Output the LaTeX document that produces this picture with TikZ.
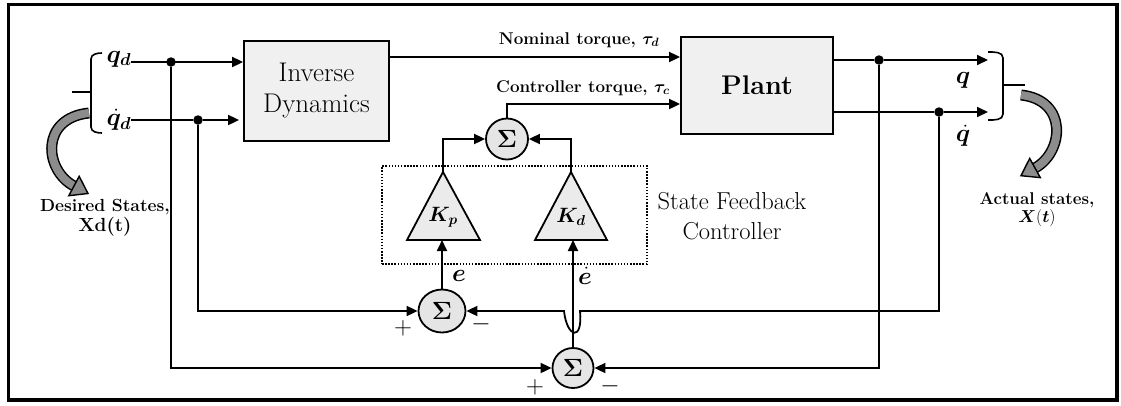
\documentclass[tikz,border=0pt]{standalone}
\usepackage{fontspec}
\usepackage{amsmath}
\usepackage{bm}
\usetikzlibrary{arrows.meta,shapes.geometric,calc}
\begin{document}
\begin{tikzpicture}[x=1pt,y=-1pt,
  conn/.style={line width=1.8pt},
  arr/.style={conn,-{Triangle[length=11pt,width=10pt]}},
  blk/.style={draw,line width=1.8pt,fill=black!6,inner sep=0pt,align=center},
  sumn/.style={draw,line width=1.8pt,fill=black!10,ellipse,inner sep=0pt,font=\fontsize{27}{27}\selectfont},
  dotn/.style={circle,fill=black,inner sep=0pt,minimum size=9.5pt},
  trifill/.style={draw,line width=1.8pt,fill=black!8,line join=miter},
  lblb/.style={inner sep=0pt,font=\fontsize{17}{19}\bfseries\selectfont},
  mlbl/.style={inner sep=0pt,font=\fontsize{24}{24}\selectfont},
  klbl/.style={inner sep=0pt,font=\fontsize{21}{21}\selectfont},
  sgn/.style={inner sep=0pt,font=\fontsize{27}{27}\selectfont},
  brc/.style={line width=1.6pt},
  bigarrow/.style={draw=black,line width=1.4pt,fill=black!45,line join=miter},
]
\useasboundingbox (0,0) rectangle (1121,405);
% outer frame
\draw[line width=3.5pt] (8.5,4.5) rectangle (1117,400);

% blocks
\node[blk,minimum width=145pt,minimum height=100pt,font=\fontsize{27}{31}\selectfont] (id) at (316.5,91) {Inverse\\Dynamics};
\node[blk,minimum width=152pt,minimum height=97pt,font=\fontsize{27}{30}\bfseries\selectfont] (plant) at (757,85.5) {Plant};

% sums
\node[sumn,minimum width=42pt,minimum height=41pt] (sigt) at (507,139) {$\bm{\Sigma}$};
\node[sumn,minimum width=47pt,minimum height=43pt] (sige) at (442,311) {$\bm{\Sigma}$};
\node[sumn,minimum width=41pt,minimum height=40pt] (sigd) at (573,368) {$\bm{\Sigma}$};

% dotted controller box
\node[draw,line width=1.5pt,dash pattern=on 1.5pt off 1.6pt,minimum width=265pt,minimum height=98pt,inner sep=0pt] (sfb) at (514.5,215) {};
\node[inner sep=0pt,align=center,font=\fontsize{24.5}{30}\selectfont] (sfbl) at (732,216) {State Feedback\\Controller};

% gain triangles
\coordinate (kptop) at (443,172);
\coordinate (kpbot) at (443,240);
\coordinate (kdtop) at (571,172);
\coordinate (kdbot) at (571,240);
\draw[trifill] (407,240) -- (kptop) -- (480,240) -- cycle;
\draw[trifill] (535,240) -- (kdtop) -- (607,240) -- cycle;
\node[klbl] (kp) at (443,217) {$\bm{K_p}$};
\node[klbl] (kd) at (571,217) {$\bm{K_d}$};

% inputs
\node[mlbl] (qd) at (119,59) {$\bm{q}_{\bm d}$};
\node[mlbl] (qdd) at (119,120) {$\dot{\bm{q}}_{\bm d}$};
\node[dotn] (d1) at (171,62) {};
\node[dotn] (d2) at (198,120) {};
\coordinate (qdend) at (id.west |- d2);
\draw[arr] (qd.east |- d1) -- (d1 -| id.west);
\draw[conn] (qdd.east |- d2) -- (d2);
\draw[arr] (d2) -- ([xshift=-4pt]qdend);

% torques
\coordinate (nt) at (0,57);
\coordinate (ct) at (0,104);
\draw[arr] (nt -| id.east) -- (nt -| plant.west);
\node[lblb] (lnom) at (579,40) {Nominal torque, $\bm{\tau_d}$};
\draw[arr] (sigt.north) |- (ct -| plant.west);
\node[lblb] (lcon) at (583,88) {Controller torque, $\bm{\tau_c}$};

% gains to top sum
\draw[arr] (kptop) |- (sigt.west);
\draw[arr] (kdtop) |- (sigt.east);

% errors to gains
\draw[arr] (sige.north) -- (sige.north |- kpbot);
\draw[arr] (sigd.north) -- (sigd.north |- kdbot);
\node[mlbl] (le) at (459,276) {$\bm{e}$};
\node[mlbl] (led) at (585,276) {$\dot{\bm{e}}$};

% outputs
\node[dotn] (d3) at (879,60) {};
\node[dotn] (d4) at (939,112) {};
\coordinate (qend) at (988,60);
\coordinate (qdend2) at (988,112);
\draw[conn] (d3 -| plant.east) -- (d3);
\draw[arr] (d3) -- (qend);
\draw[conn] (d4 -| plant.east) -- (d4);
\draw[arr] (d4) -- (qdend2);
\node[mlbl] (lq) at (963,80) {$\bm{q}$};
\node[mlbl] (lqd) at (963,136) {$\dot{\bm{q}}$};

% feedback paths
\draw[arr] (d1) |- (sigd.west);
\draw[arr] (d2) |- (sige.west);
\draw[arr] (d3) |- (sigd.east);
\coordinate (hopR) at (580,311);
\coordinate (hopL) at (564,311);
\draw[arr] (d4) |- (hopR) .. controls (583,342) and (567,338) .. (hopL) -- (sige.east);

% signs
\node[sgn] (p1) at (403,328) {$+$};
\node[sgn] (m1) at (481,324) {$-$};
\node[sgn] (p2) at (535,387) {$+$};
\node[sgn] (m2) at (610,386) {$-$};

% braces
\draw[brc] (102,53) to[out=180,in=90] (91,59) -- (91,127) to[out=-90,in=180] (102,133);
\draw[brc] (72,92) -- (91,92);
\draw[brc] (988,52) to[out=0,in=90] (1003,58) -- (1003,114) to[out=-90,in=0] (988,120);
\draw[brc] (1003,85) -- (1025,85);

% big curved arrows
\draw[line width=11pt,black] (89,113) .. controls (40,118) and (44,170) .. (74,186);
\draw[line width=8pt,black!45] (89,113) .. controls (40,118) and (44,170) .. (74,186);
\draw[bigarrow] (88,193.5) -- (68.8,195.7) -- (79.2,176.3) -- cycle;
\draw[line width=11pt,black] (1021,95) .. controls (1068,100) and (1064,152) .. (1035,168);
\draw[line width=8pt,black!45] (1021,95) .. controls (1068,100) and (1064,152) .. (1035,168);
\draw[bigarrow] (1021,175.7) -- (1040.3,177.6) -- (1029.7,158.4) -- cycle;

% state labels
\node[lblb,align=center,font=\fontsize{17.5}{20}\bfseries\selectfont] (ldes) at (105,218) {Desired States,\\{\fontsize{19}{20}\selectfont Xd(t)}};
\node[lblb,align=center,font=\fontsize{17}{18}\bfseries\selectfont] (lact) at (1037,210) {Actual states,\\$\bm{X}(\bm{t})$};
\end{tikzpicture}
\end{document}
